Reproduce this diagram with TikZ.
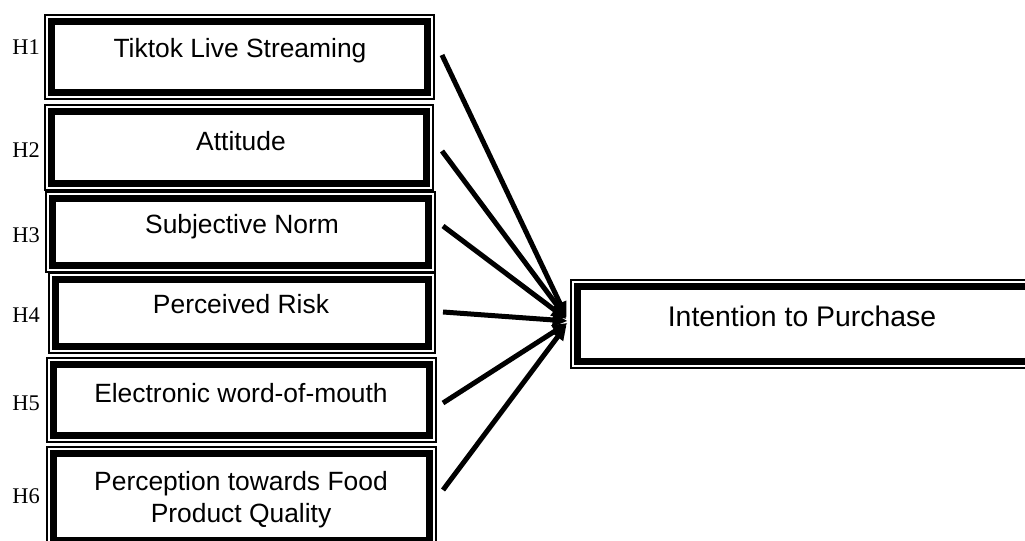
\documentclass[tikz,border=0pt]{standalone}
\usepackage{fontspec}
\setmainfont{Liberation Sans}
\newfontfamily\hfont{Liberation Serif}
\usetikzlibrary{arrows.meta,calc}
\begin{document}
\begin{tikzpicture}[x=1bp,y=-1bp,
  thickbox/.style={draw, line width=7bp, inner sep=0pt, outer sep=0pt},
  outerline/.style={draw, line width=1.2bp},
  boxtext/.style={font=\fontsize{26.5}{32}\selectfont, anchor=base, inner sep=0pt, align=center},
  bigtext/.style={font=\fontsize{28.5}{34}\selectfont, anchor=base, inner sep=0pt},
  hlab/.style={font=\hfont\fontsize{22.5}{27}\selectfont, anchor=base east, inner sep=0pt},
  arr/.style={line width=5bp, -{Triangle[length=15bp,width=13bp]}}]
\clip (0,0) rectangle (1025,541);
% boxes: name/top/bottom/left/right (outer line)
\foreach \n/\t/\b/\l/\r in {b1/15/99/45/434, b2/105/190/45/433, b3/192/272/46/435, b4/273/353/49/435, b5/358/442/47/436, b6/447/547/47/436, tgt/280/368/571/1045}{
  \node[thickbox, minimum width={(\r-\l-13)*1bp}, minimum height={(\b-\t-13)*1bp}] (\n) at ({(\l+\r)/2},{(\t+\b)/2}) {};
  \draw[outerline] ([shift={(-6.5,-6.5)}]\n.north west) rectangle ([shift={(6.5,6.5)}]\n.south east);
}
% texts
\node[boxtext] (t1) at (240,58) {Tiktok Live Streaming};
\node[boxtext] (t2) at (241,151) {Attitude};
\node[boxtext] (t3) at (242,234) {Subjective Norm};
\node[boxtext] (t4) at (241,314) {Perceived Risk};
\node[boxtext] (t5) at (241,402) {Electronic word-of-mouth};
\node[boxtext] (t6) at (241,522) {Perception towards Food\\Product Quality};
\node[bigtext] (tt) at (802,327) {Intention to Purchase};
% hypothesis labels
\node[hlab] (h1) at (40,55) {H1};
\node[hlab] (h2) at (40,158) {H2};
\node[hlab] (h3) at (40,243) {H3};
\node[hlab] (h4) at (40,323) {H4};
\node[hlab] (h5) at (40,410) {H5};
\node[hlab] (h6) at (40,503) {H6};
% arrow start points
\coordinate (s1) at (442,55);
\coordinate (s2) at (442,151);
\coordinate (s3) at (443,226);
\coordinate (s4) at (443,312);
\coordinate (s5) at (443,403);
\coordinate (s6) at (443,490);
\draw[arr] (s1) -- ([shift={(-11,-7)}]tgt.west);
\draw[arr] (s2) -- ([shift={(-11,-6)}]tgt.west);
\draw[arr] (s3) -- ([shift={(-11,-5)}]tgt.west);
\draw[arr] (s4) -- ([shift={(-10,-3)}]tgt.west);
\draw[arr] (s5) -- ([shift={(-10,-1)}]tgt.west);
\draw[arr] (s6) -- ([shift={(-11,1)}]tgt.west);
\end{tikzpicture}
\end{document}
